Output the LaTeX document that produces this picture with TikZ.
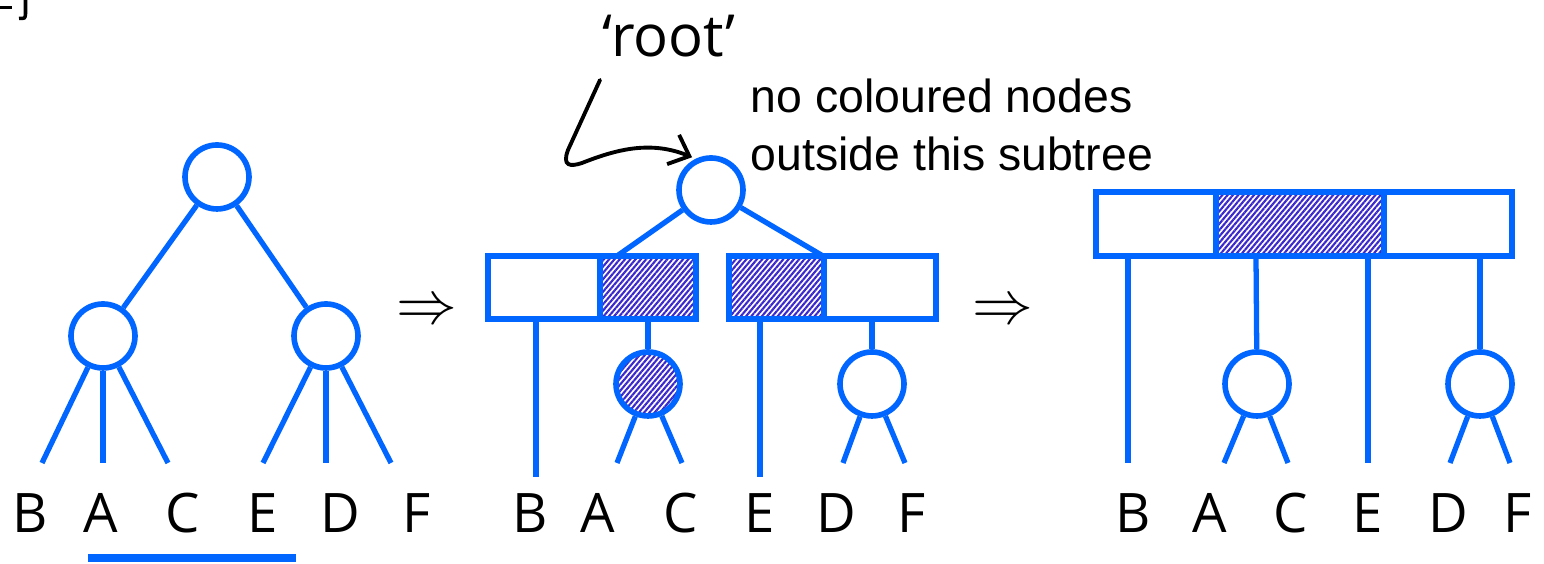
\documentclass[tikz,border=0pt]{standalone}
\usepackage{fontspec}
\usepackage{tikz}
\usetikzlibrary{arrows.meta,patterns.meta}
\newfontfamily\leaffont{Open Sans}
\newfontfamily\notefont{Liberation Sans}
\definecolor{treeblue}{RGB}{0,102,255}
\definecolor{hatchblue}{RGB}{58,40,205}

\begin{document}
\begin{tikzpicture}[line cap=butt,
  blob/.style={circle,draw=treeblue,line width=1.6pt,minimum size=0.64cm,inner sep=0pt},
  hatched/.style={pattern={Lines[angle=50,distance=1.15pt,line width=0.6pt]},pattern color=hatchblue},
  inked/.style={blob,hatched},
  bluestroke/.style={treeblue,line width=1.5pt},
  boxline/.style={treeblue,line width=1.6pt},
  leafname/.style={anchor=base,font=\leaffont\fontsize{15.5}{15.5}\selectfont},
  notetext/.style={anchor=base west,inner sep=0pt,font=\notefont\fontsize{13.2}{13.2}\selectfont},
  implies/.style={font=\fontsize{17}{17}\selectfont}]
\useasboundingbox (0,0) rectangle (15.44,5.64);
% clipped text at the top corner
\draw[line width=1pt] (0,5.565) -- (0.12,5.565);
\draw[line width=1pt] (0.255,5.66) -- (0.255,5.50) .. controls (0.25,5.455) .. (0.19,5.455);

% first tree
\node[blob] (r1) at (2.17,3.87) {};
\node[blob] (r1l) at (1.03,2.28) {};
\node[blob] (r1r) at (3.26,2.28) {};
\foreach \n/\x in {B/0.42,A/1.03,C/1.68,E/2.63,D/3.26,F/3.91}
  \coordinate (a\n) at (\x,1.01);
\draw[bluestroke] (r1) -- (r1l);
\draw[bluestroke] (r1) -- (r1r);
\draw[bluestroke] (r1l) -- (aB);
\draw[bluestroke] (r1l) -- (aA);
\draw[bluestroke] (r1l) -- (aC);
\draw[bluestroke] (r1r) -- (aE);
\draw[bluestroke] (r1r) -- (aD);
\draw[bluestroke] (r1r) -- (aF);
\foreach \n/\x in {B/0.30,A/1.01,C/1.83,E/2.63,D/3.40,F/4.17}
  \node[leafname] (la\n) at (\x,0.31) {\n};
\draw[treeblue,line width=2.3pt] (0.88,0.06) -- (2.96,0.06);

\node[implies] (go1) at (4.27,2.52) {$\Rightarrow$};

% second tree
\node[blob] (r2) at (7.11,3.74) {};
\fill[hatched] (6.00,2.45) rectangle (6.96,3.08);
\fill[hatched] (7.29,2.45) rectangle (8.24,3.08);
\draw[boxline] (4.88,2.45) rectangle (6.96,3.08);
\draw[boxline] (6.00,2.45) -- (6.00,3.08);
\draw[boxline] (7.29,2.45) rectangle (9.36,3.08);
\draw[boxline] (8.24,2.45) -- (8.24,3.08);
\coordinate (p2l) at (6.17,3.08);
\coordinate (p2r) at (8.23,3.08);
\draw[bluestroke] (r2) -- (p2l);
\draw[bluestroke] (r2) -- (p2r);
\coordinate (s2B) at (5.36,2.45);
\coordinate (s2A) at (6.48,2.45);
\coordinate (s2E) at (7.60,2.45);
\coordinate (s2D) at (8.72,2.45);
\node[inked] (c2l) at (6.48,1.80) {};
\node[blob] (c2r) at (8.72,1.80) {};
\foreach \n/\x in {A/6.17,C/6.82,D/8.43,F/9.05}
  \coordinate (b\n) at (\x,1.01);
\coordinate (bB) at (5.36,0.87);
\coordinate (bE) at (7.60,0.87);
\draw[bluestroke] (s2B) -- (bB);
\draw[bluestroke] (s2E) -- (bE);
\draw[bluestroke] (s2A) -- (c2l);
\draw[bluestroke] (s2D) -- (c2r);
\draw[bluestroke] (c2l) -- (bA);
\draw[bluestroke] (c2l) -- (bC);
\draw[bluestroke] (c2r) -- (bD);
\draw[bluestroke] (c2r) -- (bF);
\foreach \n/\x in {B/5.30,A/5.98,C/6.81,E/7.60,D/8.36,F/9.12}
  \node[leafname] (lb\n) at (\x,0.31) {\n};

\node[font=\leaffont\fontsize{16.5}{16.5}\selectfont,anchor=base] (rootword) at (6.69,5.07) {‘root’};
\node[notetext] (note1) at (7.50,4.51) {no coloured nodes};
\node[notetext] (note2) at (7.50,3.93) {outside this subtree};
\draw[-{Straight Barb[length=5pt,width=9pt]},line width=1.1pt,line cap=round]
  (6.00,4.84) -- (5.68,4.14) .. controls (5.62,3.98) and (5.70,3.97) .. (5.82,4.01)
  .. controls (6.15,4.14) and (6.50,4.24) .. ([yshift=1pt]r2.123);

\node[implies] (go2) at (10.03,2.52) {$\Rightarrow$};

% third tree
\fill[hatched] (12.16,3.08) rectangle (13.84,3.72);
\draw[boxline] (10.96,3.08) rectangle (15.12,3.72);
\draw[boxline] (12.16,3.08) -- (12.16,3.72);
\draw[boxline] (13.84,3.08) -- (13.84,3.72);
\foreach \n/\x in {B/11.28,A/12.56,E/13.68,D/14.80}
  \coordinate (s3\n) at (\x,3.08);
\node[blob] (c3l) at (12.57,1.80) {};
\node[blob] (c3r) at (14.80,1.80) {};
\foreach \n/\x in {B/11.28,A/12.24,C/12.88,E/13.68,D/14.50,F/15.10}
  \coordinate (e\n) at (\x,1.01);
\draw[bluestroke] (s3B) -- (eB);
\draw[bluestroke] (s3E) -- (eE);
\draw[bluestroke] (s3A) -- (c3l);
\draw[bluestroke] (s3D) -- (c3r);
\draw[bluestroke] (c3l) -- (eA);
\draw[bluestroke] (c3l) -- (eC);
\draw[bluestroke] (c3r) -- (eD);
\draw[bluestroke] (c3r) -- (eF);
\foreach \n/\x in {B/11.33,A/12.10,C/12.91,E/13.68,D/14.48,F/15.18}
  \node[leafname] (lc\n) at (\x,0.31) {\n};
\end{tikzpicture}
\end{document}
